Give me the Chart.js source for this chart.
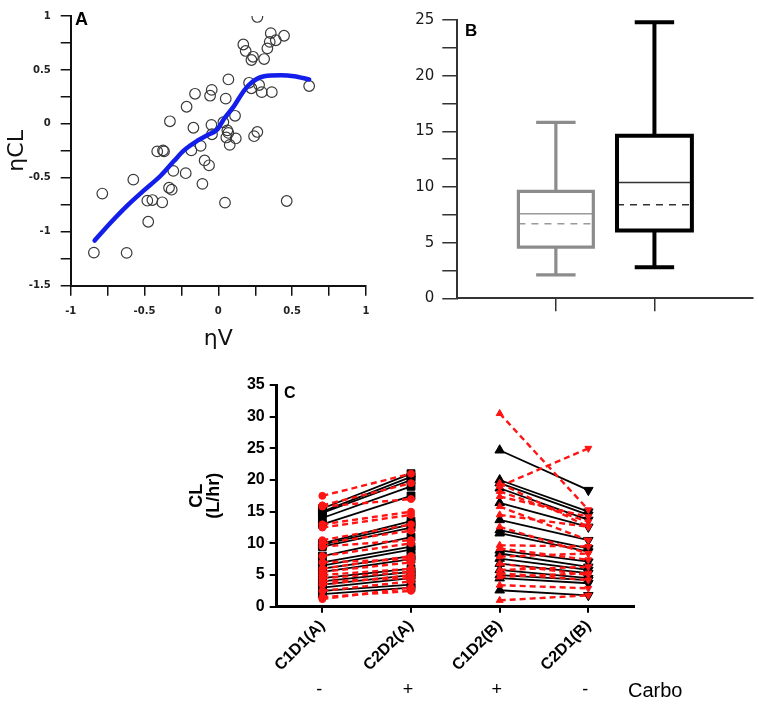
<!DOCTYPE html>
<html>
<head>
<meta charset="utf-8">
<script src="https://cdn.jsdelivr.net/npm/chart.js@4.4.1/dist/chart.umd.min.js"></script>
<style>
  body { margin: 0; background: #fff; width: 758px; height: 704px; position: relative; overflow: hidden; font-family: 'Liberation Sans', Arial, sans-serif; }
  canvas { position: absolute; }
  #chartA { left: 0; top: 0; }
  #chartB { left: 380px; top: 0; }
  #chartC { left: 160px; top: 360px; }
  .tag { position: absolute; font-weight: bold; line-height: 1; color: #000; }
</style>
</head>
<body>
<canvas id="chartA" width="380" height="352"></canvas>
<canvas id="chartB" width="378" height="335"></canvas>
<canvas id="chartC" width="598" height="344"></canvas>
<div class="tag" style="left:75px;top:10px;font-size:18px">A</div>
<div class="tag" style="left:465px;top:22px;font-size:17px">B</div>
<div class="tag" style="left:284px;top:385px;font-size:16px">C</div>
<script>
// ---- panel A: random effects scatter + loess line
const etaV = [0.264, 0.355, 0.445, 0.389, 0.348, 0.169, 0.185, 0.332, 0.235, 0.224, 0.310,
  0.068, 0.208, 0.276, 0.224, 0.294, 0.362, 0.615, -0.045, -0.056, 0.050, -0.158, -0.215,
  -0.328, -0.169, -0.047, 0.034, 0.113, 0.061, 0.068, 0.054, 0.118, -0.043, 0.264, 0.242,
  0.077, -0.120, -0.183, -0.414, -0.375, -0.368, -0.093, -0.063, -0.305, -0.221, -0.576,
  -0.334, -0.316, -0.108, -0.786, -0.481, -0.447, -0.380, 0.045, 0.463, -0.475, -0.843, -0.621];
const etaCL = [0.991, 0.841, 0.817, 0.775, 0.760, 0.736, 0.676, 0.700, 0.622, 0.592, 0.601,
  0.412, 0.381, 0.360, 0.330, 0.294, 0.294, 0.351, 0.315, 0.261, 0.234, 0.279, 0.159,
  0.024, -0.036, -0.009, 0.015, 0.075, -0.060, -0.084, -0.126, -0.135, -0.096, -0.075, -0.114,
  -0.195, -0.204, -0.246, -0.255, -0.246, -0.255, -0.339, -0.384, -0.436, -0.457, -0.517,
  -0.592, -0.610, -0.556, -0.646, -0.712, -0.706, -0.727, -0.730, -0.715, -0.907, -1.193, -1.196];
const loessV = [-0.838, -0.730, -0.617, -0.504, -0.391, -0.301, -0.233, -0.142, -0.075, -0.007,
  0.038, 0.106, 0.174, 0.231, 0.310, 0.423, 0.513, 0.615];
const loessCL = [-1.081, -0.916, -0.757, -0.616, -0.481, -0.345, -0.246, -0.156, -0.105, -0.051,
  0.045, 0.165, 0.309, 0.391, 0.442, 0.451, 0.442, 0.412];
const aXTicks = [-1, -0.75, -0.5, -0.25, 0, 0.25, 0.5, 0.75, 1];
const aYTicks = [-1.5, -1.25, -1, -0.75, -0.5, -0.25, 0, 0.25, 0.5, 0.75, 1];

// ---- panel B: box plots
const boxPositions = [1, 2];
const boxMin = [2.1, 2.8];
const boxQ1 = [4.6, 6.1];
const boxMedian = [7.6, 10.4];
const boxMean = [6.7, 8.4];
const boxQ3 = [9.6, 14.6];
const boxMax = [15.8, 24.8];
const bYTicks = [0, 2.5, 5, 7.5, 10, 12.5, 15, 17.5, 20, 22.5, 25];

// ---- panel C: paired CL by period
const catLabels = ['C1D1(A)', 'C2D2(A)', 'C1D2(B)', 'C2D1(B)'];
const catPositions = [1, 2, 3, 4];
const carboSigns = ['-', '+', '+', '-'];
const cYTicks = [0, 5, 10, 15, 20, 25, 30, 35];
const aBlackC1D1 = [15.5, 15.0, 14.8, 14.0, 13.0, 10.0, 9.8, 9.5, 8.0, 7.0, 6.5, 6.0, 5.5, 4.5, 4.0, 3.5, 3.0, 2.5, 2.0];
const aBlackC2D2 = [21.0, 20.5, 20.0, 19.0, 17.5, 13.5, 13.0, 12.5, 11.0, 9.5, 9.0, 8.0, 7.5, 6.0, 5.5, 5.0, 4.5, 3.5, 3.0];
const aRedC1D1 = [17.5, 16.0, 15.8, 13.0, 12.5, 10.5, 10.0, 9.5, 8.0, 7.0, 6.0, 5.5, 5.0, 4.5, 4.0, 3.5, 2.5, 1.5, 1.2];
const aRedC2D2 = [21.0, 19.5, 17.0, 15.0, 14.5, 13.0, 12.0, 10.5, 10.0, 7.5, 8.0, 7.0, 6.0, 5.5, 4.5, 5.0, 4.0, 2.5, 3.0];
const bBlackC1D2 = [24.7, 20.0, 19.5, 18.7, 16.4, 13.7, 12.1, 11.6, 8.9, 8.4, 7.6, 6.8, 5.8, 5.0, 4.5, 2.6];
const bBlackC2D1 = [18.4, 15.0, 14.5, 13.7, 12.6, 10.5, 9.2, 8.7, 7.1, 6.3, 5.8, 5.3, 4.5, 4.2, 3.7, 1.8];
const bRedC1D2 = [30.5, 19.0, 19.5, 18.2, 17.4, 15.8, 14.5, 12.6, 9.7, 9.2, 7.9, 6.8, 5.8, 5.3, 4.7, 3.4, 1.0];
const bRedC2D1 = [15.3, 25.0, 12.6, 13.4, 14.2, 10.5, 12.6, 8.4, 9.5, 7.4, 8.4, 5.0, 6.3, 4.2, 5.3, 2.9, 1.8];

Chart.defaults.font.family = "'Liberation Sans', Arial, sans-serif";
Chart.defaults.animation = false;
Chart.defaults.plugins.legend.display = false;
Chart.defaults.plugins.tooltip.enabled = false;

function fixedTicks(values) {
  return (scale) => { scale.ticks = values.map(v => ({ value: v })); };
}
const isMultiple = (v, step) => Math.abs(v / step - Math.round(v / step)) < 1e-9;

// ---------- A
new Chart(document.getElementById('chartA'), {
  type: 'scatter',
  data: {
    datasets: [
      {
        data: loessV.map((x, i) => ({ x: x, y: loessCL[i] })),
        showLine: true,
        borderColor: 'rgb(20, 30, 235)',
        borderWidth: 4.5,
        pointRadius: 0,
        cubicInterpolationMode: 'monotone',
        borderCapStyle: 'round'
      },
      {
        data: etaV.map((x, i) => ({ x: x, y: etaCL[i] })),
        pointRadius: 5.3,
        pointBorderWidth: 1.2,
        pointBorderColor: '#3a3a3a',
        pointBackgroundColor: 'rgba(0,0,0,0)'
      }
    ]
  },
  options: {
    responsive: false,
    layout: { padding: { left: 0, top: 8, right: 14, bottom: 0 } },
    scales: {
      x: {
        type: 'linear', min: -1, max: 1,
        afterBuildTicks: fixedTicks(aXTicks),
        afterFit: (s) => { s.height = 66.3; },
        ticks: {
          autoSkip: false, maxRotation: 0, padding: 10, color: '#222',
          font: { family: 'DejaVu Sans', size: 10, weight: 'bold' },
          callback: (v) => isMultiple(v, 0.5) ? String(v) : ''
        },
        grid: { drawOnChartArea: false, color: '#111', lineWidth: 1.5, tickLength: 10 },
        border: { color: '#111', width: 2 },
        title: { display: true, text: 'ηV', color: '#111', padding: { top: 0, bottom: 0 },
          font: { family: 'DejaVu Sans', size: 22 } }
      },
      y: {
        type: 'linear', min: -1.5, max: 1,
        afterBuildTicks: fixedTicks(aYTicks),
        afterFit: (s) => { s.width = 70.7; },
        ticks: {
          autoSkip: false, padding: 10, color: '#222',
          font: { family: 'DejaVu Sans', size: 10, weight: 'bold' },
          callback: (v) => isMultiple(v, 0.5) ? String(v) : ''
        },
        grid: { drawOnChartArea: false, color: '#111', lineWidth: 1.5, tickLength: 10 },
        border: { color: '#111', width: 2 },
        title: { display: true, text: 'ηCL', color: '#111', padding: { top: 4, bottom: 0 },
          font: { family: 'DejaVu Sans', size: 22 } }
      }
    }
  }
});

// ---------- B
const BOX_HALF = 0.38;
const CAP_HALF = 0.2;
const boxColors = ['#8c8c8c', '#000000'];
const boxInner = ['#9a9a9a', '#333333'];
const boxWidths = [3.2, 4];

function segment(points, color, width, extra) {
  return Object.assign({
    data: points.map(p => ({ x: p[0], y: p[1] })),
    showLine: true, pointRadius: 0, borderColor: color, borderWidth: width,
    borderJoinStyle: 'miter', borderCapStyle: 'butt'
  }, extra || {});
}

function boxDatasets(i) {
  const x = boxPositions[i], c = boxColors[i], w = boxWidths[i];
  return [
    segment([[x - BOX_HALF, boxQ1[i]], [x + BOX_HALF, boxQ1[i]], [x + BOX_HALF, boxQ3[i]],
      [x - BOX_HALF, boxQ3[i]], [x - BOX_HALF, boxQ1[i]]], c, w, { borderCapStyle: 'square' }),
    segment([[x, boxQ3[i]], [x, boxMax[i]]], c, w),
    segment([[x, boxMin[i]], [x, boxQ1[i]]], c, w),
    segment([[x - CAP_HALF, boxMax[i]], [x + CAP_HALF, boxMax[i]]], c, w),
    segment([[x - CAP_HALF, boxMin[i]], [x + CAP_HALF, boxMin[i]]], c, w),
    segment([[x - BOX_HALF, boxMedian[i]], [x + BOX_HALF, boxMedian[i]]], boxInner[i], 1.5),
    segment([[x - BOX_HALF, boxMean[i]], [x + BOX_HALF, boxMean[i]]], boxInner[i], 1.5, { borderDash: [7, 6] })
  ];
}

new Chart(document.getElementById('chartB'), {
  type: 'scatter',
  data: { datasets: boxDatasets(0).concat(boxDatasets(1)) },
  options: {
    responsive: false,
    layout: { padding: { left: 0, top: 20, right: 5, bottom: 0 } },
    scales: {
      x: {
        type: 'linear', min: 0, max: 3,
        afterBuildTicks: fixedTicks(boxPositions),
        afterFit: (s) => { s.height = 36.7; },
        ticks: { callback: () => '' },
        grid: { drawOnChartArea: false, color: '#333', lineWidth: 1.5, tickLength: 13 },
        border: { color: '#333', width: 2 }
      },
      y: {
        type: 'linear', min: 0, max: 25,
        afterBuildTicks: fixedTicks(bYTicks),
        afterFit: (s) => { s.width = 77.3; },
        ticks: {
          autoSkip: false, padding: 8, color: '#1a1a1a',
          font: { family: 'DejaVu Sans', size: 15 },
          callback: (v) => isMultiple(v, 5) ? String(v) : ''
        },
        grid: { drawOnChartArea: false, color: '#333', lineWidth: 1.5, tickLength: 15 },
        border: { color: '#333', width: 2 }
      }
    }
  }
});

// ---------- C
function pairSets(c1, c2, xa, xb, color, style) {
  return c1.map((v, i) => Object.assign({
    data: [{ x: xa, y: v }, { x: xb, y: c2[i] }],
    showLine: true, borderColor: color, pointBackgroundColor: color, pointBorderColor: color
  }, style));
}

const blackLine = { borderWidth: 1.8, pointBorderWidth: 1 };
const redLine = { borderWidth: 2.4, borderDash: [6, 4], pointBorderWidth: 1 };
const RED = '#ff1414';

const cDatasets = [].concat(
  pairSets(aRedC1D1, aRedC2D2, 1, 2, RED, Object.assign({ pointStyle: 'circle', pointRadius: 3.5 }, redLine)),
  pairSets(bRedC1D2, bRedC2D1, 3, 4, RED, Object.assign({ pointStyle: 'triangle', pointRadius: 4, pointRotation: [0, 180] }, redLine)),
  pairSets(aBlackC1D1, aBlackC2D2, 1, 2, '#000', Object.assign({ pointStyle: 'rect', pointRadius: 5.5 }, blackLine)),
  pairSets(bBlackC1D2, bBlackC2D1, 3, 4, '#000', Object.assign({ pointStyle: 'triangle', pointRadius: 5.5, pointRotation: [0, 180] }, blackLine))
);

const carboRow = {
  id: 'carboRow',
  afterDraw(chart) {
    const { ctx } = chart;
    const x = chart.scales.x;
    ctx.save();
    ctx.fillStyle = '#000';
    ctx.textBaseline = 'middle';
    ctx.textAlign = 'center';
    ctx.font = "18px 'Liberation Sans', Arial, sans-serif";
    carboSigns.forEach((s, i) => {
      ctx.fillText(s, x.getPixelForValue(catPositions[i]) - 3, 330);
    });
    ctx.textAlign = 'left';
    ctx.font = "20px 'Liberation Sans', Arial, sans-serif";
    ctx.fillText('Carbo', x.right - 6, 331);
    ctx.restore();
  }
};

new Chart(document.getElementById('chartC'), {
  type: 'scatter',
  data: { datasets: cDatasets },
  plugins: [carboRow],
  options: {
    responsive: false,
    layout: { padding: { left: 0, top: 25, right: 124, bottom: 0 } },
    scales: {
      x: {
        type: 'linear', min: 0.485, max: 4.515,
        afterBuildTicks: fixedTicks(catPositions),
        afterFit: (s) => { s.height = 97.3; },
        ticks: {
          autoSkip: false, minRotation: 45, maxRotation: 45, padding: 4, color: '#000',
          font: { size: 16, weight: 'bold' },
          callback: (v) => catLabels[catPositions.indexOf(v)]
        },
        grid: { drawOnChartArea: false, color: '#000', lineWidth: 2, tickLength: 6 },
        border: { color: '#000', width: 3 }
      },
      y: {
        type: 'linear', min: 0, max: 35,
        afterBuildTicks: fixedTicks(cYTicks),
        afterFit: (s) => { s.width = 116.7; },
        ticks: { autoSkip: false, padding: 5, color: '#000', font: { size: 16, weight: 'bold' } },
        grid: { drawOnChartArea: false, color: '#000', lineWidth: 2, tickLength: 7 },
        border: { color: '#000', width: 3 },
        title: { display: true, text: ['CL', '(L/hr)'], color: '#000', padding: { top: 28, bottom: 0 },
          font: { size: 18, weight: 'bold', lineHeight: 0.95 } }
      }
    }
  }
});
</script>
</body>
</html>
